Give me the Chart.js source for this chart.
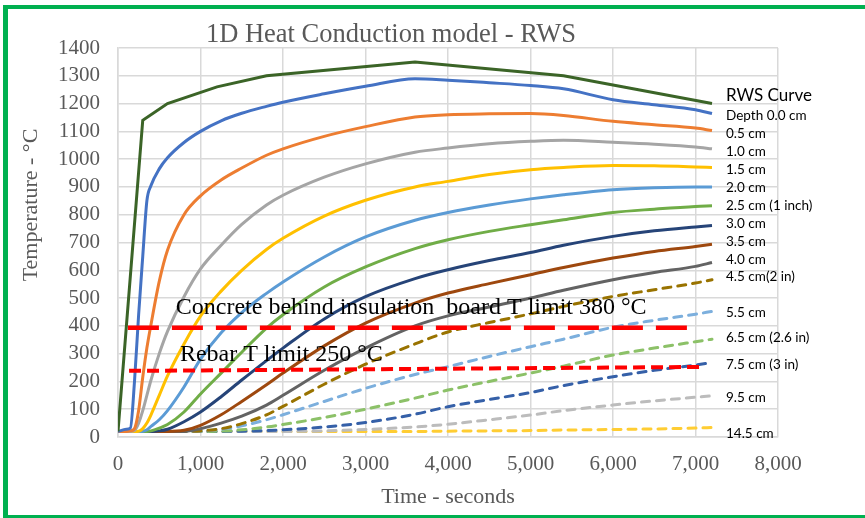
<!DOCTYPE html>
<html>
<head>
<meta charset="utf-8">
<script src="https://cdn.jsdelivr.net/npm/chart.js@4"></script>
<style>
  html, body { margin: 0; padding: 0; background: #fff; overflow: hidden; }
  #chart { display: block; }
</style>
</head>
<body>
<canvas id="chart" width="865" height="518"></canvas>
<script>
const chartTitle = "1D Heat Conduction model - RWS";
const xTitle = "Time - seconds";
const yTitle = "Temperature - \u00b0C";

// fire curve (gas temperature)
const rwsTimes = [0, 300, 600, 1200, 1800, 3600, 5400, 7200];
const rwsTemps = [20, 1140, 1200, 1260, 1300, 1350, 1300, 1200];

// model output times (s) shared by all depths
const times = [0, 100, 150, 200, 250, 300, 350, 400, 500, 600, 800, 1000, 1250, 1500, 1800, 2000, 2500, 3000, 3600, 4000, 4500, 5000, 5400, 6000, 6500, 7000, 7200];

const d00 = [20, 28, 32, 200, 440, 650, 850, 905, 965, 1005, 1060, 1100, 1138, 1165, 1190, 1205, 1235, 1262, 1289, 1284, 1275, 1265, 1253, 1214, 1196, 1178, 1164];
const d05 = [20, 20, 22, 30, 95, 215, 320, 405, 560, 672, 800, 868, 925, 968, 1014, 1037, 1082, 1117, 1152, 1160, 1163, 1164, 1157, 1136, 1124, 1112, 1103];
const d10 = [20, 20, 20, 24, 50, 95, 150, 205, 300, 380, 505, 605, 690, 765, 835, 870, 935, 983, 1025, 1040, 1055, 1064, 1068, 1061, 1054, 1044, 1037];
const d15 = [20, 20, 20, 20, 21, 30, 50, 80, 150, 220, 335, 435, 525, 600, 675, 715, 795, 852, 900, 920, 945, 962, 970, 977, 976, 972, 970];
const d20 = [20, 20, 20, 20, 20, 21, 26, 38, 62, 95, 180, 280, 375, 448, 517, 558, 648, 720, 780, 808, 835, 857, 872, 890, 897, 900, 900];
const d25 = [20, 20, 20, 20, 20, 20, 20, 22, 32, 45, 90, 155, 230, 305, 392, 440, 540, 612, 678, 710, 740, 764, 782, 808, 820, 830, 832];
const d30 = [20, 20, 20, 20, 20, 20, 20, 20, 22, 28, 55, 90, 145, 205, 275, 320, 425, 505, 570, 602, 635, 664, 690, 722, 742, 756, 761];
const d35 = [20, 20, 20, 20, 20, 20, 20, 20, 20, 20, 24, 42, 80, 128, 188, 230, 328, 410, 482, 518, 552, 584, 610, 644, 668, 686, 694];
const d40 = [20, 20, 20, 20, 20, 20, 20, 20, 20, 20, 20, 30, 50, 75, 115, 150, 240, 320, 400, 436, 468, 500, 528, 566, 592, 614, 628];
const d45 = [20, 20, 20, 20, 20, 20, 20, 20, 20, 20, 20, 22, 30, 48, 80, 110, 190, 262, 335, 378, 412, 443, 470, 506, 530, 554, 566];
const d55 = [20, 20, 20, 20, 20, 20, 20, 20, 20, 20, 20, 21, 28, 40, 62, 80, 128, 175, 225, 253, 290, 325, 352, 395, 420, 442, 452];
const d65 = [20, 20, 20, 20, 20, 20, 20, 20, 20, 20, 20, 20, 21, 26, 36, 45, 70, 100, 140, 169, 200, 230, 255, 295, 320, 343, 352];
const d75 = [20, 20, 20, 20, 20, 20, 20, 20, 20, 20, 20, 20, 20, 21, 23, 26, 36, 52, 82, 109, 135, 160, 185, 217, 240, 259, 268];
const d95 = [20, 20, 20, 20, 20, 20, 20, 20, 20, 20, 20, 20, 20, 20, 20, 20, 22, 27, 36, 46, 62, 79, 95, 115, 130, 143, 148];
const d145 = [20, 20, 20, 20, 20, 20, 20, 20, 20, 20, 20, 20, 20, 20, 20, 20, 20, 20, 20, 21, 22, 23, 25, 27, 29, 32, 34];

const seriesLabels = ["RWS Curve", "Depth 0.0 cm", "0.5 cm", "1.0 cm", "1.5 cm", "2.0 cm", "2.5 cm (1 inch)", "3.0 cm", "3.5 cm", "4.0 cm", "4.5 cm(2 in)", "5.5 cm", "6.5 cm (2.6 in)", "7.5 cm (3 in)", "9.5 cm", "14.5 cm"];
const depthSeries = [d00, d05, d10, d15, d20, d25, d30, d35, d40, d45, d55, d65, d75, d95, d145];
const colors = ["#3b6427", "#4472c4", "#ed7d31", "#a5a5a5", "#ffc000", "#5b9bd5", "#70ad47", "#264478", "#9e480e", "#636363", "#997300", "#7cafdd", "#8cc168", "#3560a8", "#bcbcbc", "#ffcd33"];
const dashed = [false, false, false, false, false, false, false, false, false, false, true, true, true, true, true, true];

// where the series names sit (temperature of each text line)
const labelTime = 7370;
const labelTemps = [1229, 1157, 1092, 1027, 964, 899, 833, 768, 703, 638, 576, 447, 357, 260, 143, 13];

// limit lines
const concreteX = [120, 6910];
const concreteT = [393, 393];
const concreteNote = "Concrete behind insulation  board T limit 380 \u00b0C";
const rebarX = [134, 7065];
const rebarT = [238, 252];
const rebarNote = "Rebar T limit 250 \u00b0C";

function toPoints(xs, ys) {
  return xs.map((x, i) => ({ x, y: ys[i] }));
}

const datasets = [];
datasets.push({
  label: seriesLabels[0],
  data: toPoints(rwsTimes, rwsTemps),
  borderColor: colors[0],
  borderWidth: 3,
  tension: 0,
});
depthSeries.forEach((vals, i) => {
  datasets.push({
    label: seriesLabels[i + 1],
    data: toPoints(times, vals),
    borderColor: colors[i + 1],
    borderWidth: 3,
    cubicInterpolationMode: "monotone",
    borderDash: dashed[i + 1] ? [8, 7] : [],
    borderCapStyle: dashed[i + 1] ? "round" : "butt",
  });
});
datasets.push({
  label: "concrete limit",
  data: toPoints(concreteX, concreteT),
  borderColor: "#ff0000",
  borderWidth: 4.5,
  borderDash: [31, 13],
  order: -1,
});
datasets.push({
  label: "rebar limit",
  data: toPoints(rebarX, rebarT),
  borderColor: "#ff0000",
  borderWidth: 4,
  borderDash: [12, 6],
  order: -1,
});

const serif = "'Liberation Serif', 'Times New Roman', serif";

// green outline of the chart object (left, top and bottom edges show)
const framePlugin = {
  id: "frame",
  beforeDraw(chart) {
    const { ctx, width, height } = chart;
    ctx.save();
    ctx.fillStyle = "#00b050";
    ctx.fillRect(3, 5, 5, height - 5);
    ctx.fillRect(3, 5, width - 3, 4);
    ctx.fillRect(3, height - 3, width - 3, 3);
    ctx.restore();
  },
};

const textPlugin = {
  id: "overlayText",
  afterDatasetsDraw(chart) {
    const { ctx } = chart;
    const xs = chart.scales.x;
    const ys = chart.scales.y;
    ctx.save();
    ctx.fillStyle = "#595959";
    ctx.textAlign = "center";
    ctx.textBaseline = "alphabetic";
    ctx.font = "26.5px " + serif;
    ctx.fillText(chartTitle, 391, 42);

    ctx.font = "22px " + serif;
    ctx.textBaseline = "middle";
    ctx.fillText(xTitle, (xs.left + xs.right) / 2, 497);
    ctx.save();
    ctx.translate(31, 205);
    ctx.rotate(-Math.PI / 2);
    ctx.fillText(yTitle, 0, 0);
    ctx.restore();

    ctx.fillStyle = "#000";
    ctx.textAlign = "left";
    ctx.textBaseline = "alphabetic";
    ctx.font = "24px " + serif;
    ctx.fillText(concreteNote, xs.getPixelForValue(700), ys.getPixelForValue(443));
    ctx.fillText(rebarNote, xs.getPixelForValue(750), ys.getPixelForValue(272));

    ctx.textBaseline = "middle";
    seriesLabels.forEach((lab, i) => {
      ctx.font = i === 0 ? "17px Lato" : "13.5px Lato";
      ctx.fillText(lab, xs.getPixelForValue(labelTime), ys.getPixelForValue(labelTemps[i]));
    });
    ctx.restore();
  },
};

new Chart(document.getElementById("chart"), {
  type: "line",
  data: { datasets },
  plugins: [framePlugin, textPlugin],
  options: {
    responsive: false,
    animation: false,
    devicePixelRatio: 1,
    layout: { padding: { left: 0, top: 48, right: 87, bottom: 0 } },
    elements: { point: { radius: 0 } },
    plugins: { legend: { display: false }, tooltip: { enabled: false } },
    scales: {
      x: {
        type: "linear",
        min: 0,
        max: 8000,
        grid: { color: "#d9d9d9", lineWidth: 1.5, drawTicks: false },
        border: { color: "#d9d9d9", width: 1.5 },
        ticks: {
          stepSize: 1000,
          autoSkip: false,
          padding: 15,
          color: "#595959",
          font: { family: serif, size: 21 },
          maxRotation: 0,
          callback: (v) => v.toLocaleString("en-US"),
        },
        afterFit: (s) => { s.height = 81; },
      },
      y: {
        min: 0,
        max: 1400,
        grid: { color: "#d9d9d9", lineWidth: 1.5, drawTicks: false },
        border: { color: "#d9d9d9", width: 1.5 },
        ticks: {
          stepSize: 100,
          autoSkip: false,
          padding: 18,
          color: "#595959",
          font: { family: serif, size: 21 },
          callback: (v) => String(v),
        },
        afterFit: (s) => { s.width = 118; },
      },
    },
  },
});
</script>
</body>
</html>
